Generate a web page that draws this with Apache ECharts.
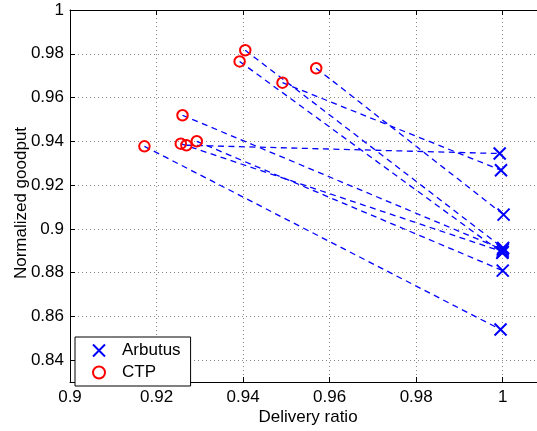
<!DOCTYPE html>
<html>
<head>
<meta charset="utf-8">
<script src="https://cdn.jsdelivr.net/npm/echarts@6/dist/echarts.min.js"></script>
<style>
html,body{margin:0;padding:0;background:#fff;overflow:hidden;width:537px;height:431px;}
#chart{width:546px;height:431px;}
</style>
</head>
<body>
<div id="chart"></div>
<script>
// CTP points: delivery ratio, normalized goodput
const ctpX = [0.9172, 0.9260, 0.9256, 0.9269, 0.9293, 0.9392, 0.9405, 0.9491, 0.9569];
const ctpY = [0.9377, 0.9519, 0.9389, 0.9382, 0.9400, 0.9765, 0.9816, 0.9668, 0.9734];
// Arbutus points (paired with the CTP point at the same index)
const arbX = [0.9995, 1.0000, 1.0000, 0.9993, 1.0000, 0.9999, 1.0001, 0.9996, 1.0002];
const arbY = [0.8540, 0.8905, 0.8895, 0.9344, 0.8809, 0.8890, 0.8912, 0.9268, 0.9065];
const xTicks = [0.9, 0.92, 0.94, 0.96, 0.98, 1.0];
const yTicks = [0.84, 0.86, 0.88, 0.9, 0.92, 0.94, 0.96, 0.98, 1.0];

const FONT = 'Liberation Sans, Arial, sans-serif';
const fmt = v => String(+Number(v).toFixed(2));

const chart = echarts.init(document.getElementById('chart'), null, {renderer: 'canvas'});

const ctpData = ctpX.map((x, i) => [x, ctpY[i]]);
const arbData = arbX.map((x, i) => [x, arbY[i]]);
const pairData = ctpX.map((x, i) => ({coords: [[x, ctpY[i]], [arbX[i], arbY[i]]]}));

const xPath = 'path://M0,0L10,10M10,0L0,10';

chart.setOption({
  animation: false,
  backgroundColor: '#fff',
  grid: {left: 70, top: 10, right: 0, bottom: 45, containLabel: false},
  xAxis: [{
    type: 'value', min: 0.9, max: 1.01,
    name: 'Delivery ratio', nameLocation: 'middle', nameGap: 27, nameMoveOverlap: false,
    nameTextStyle: {fontFamily: FONT, fontSize: 17, color: '#000'},
    axisLine: {show: true, lineStyle: {color: '#000', width: 1}},
    axisTick: {show: true, inside: true, length: 5, customValues: xTicks, lineStyle: {color: '#000'}},
    axisLabel: {customValues: xTicks, formatter: fmt, fontFamily: FONT, fontSize: 17, color: '#000', margin: 7},
    splitLine: {show: true, lineStyle: {color: '#888', width: 1, type: [1, 3]}}
  }, {
    type: 'value', min: 0.9, max: 1.01, position: 'top',
    axisLine: {show: true, lineStyle: {color: '#000', width: 1}},
    axisTick: {show: true, inside: true, length: 5, customValues: xTicks, lineStyle: {color: '#000'}},
    axisLabel: {show: false},
    splitLine: {show: false}
  }],
  yAxis: [{
    type: 'value', min: 0.83, max: 1.0,
    name: 'Normalized goodput', nameLocation: 'middle', nameGap: 40, nameMoveOverlap: false,
    nameTextStyle: {fontFamily: FONT, fontSize: 17, color: '#000', padding: [0, 14, 0, 0]},
    axisLine: {show: true, lineStyle: {color: '#000', width: 1}},
    axisTick: {show: true, inside: true, length: 5, customValues: yTicks, lineStyle: {color: '#000'}},
    axisLabel: {customValues: yTicks, formatter: fmt, fontFamily: FONT, fontSize: 17, color: '#000', margin: 6},
    splitLine: {show: true, lineStyle: {color: '#888', width: 1, type: [1, 3]}}
  }],
  legend: {
    orient: 'vertical', left: 75, top: 337,
    padding: [5, 10, 5, 17],
    itemWidth: 14, itemHeight: 12, itemGap: 5,
    backgroundColor: '#fff', borderColor: '#000', borderWidth: 1, borderRadius: 0,
    textStyle: {fontFamily: FONT, fontSize: 17, lineHeight: 14, color: '#000', padding: [0, 0, 0, 11]},
    selectedMode: false,
    data: [
      {name: 'Arbutus', icon: xPath, itemStyle: {color: 'rgba(0,0,0,0)', borderColor: '#0000ff', borderWidth: 2}},
      {name: 'CTP', icon: 'circle', itemStyle: {color: 'rgba(0,0,0,0)', borderColor: '#ff0000', borderWidth: 2}}
    ]
  },
  series: [{
    type: 'lines', coordinateSystem: 'cartesian2d', xAxisIndex: 0, yAxisIndex: 0,
    silent: true, polyline: false,
    lineStyle: {color: '#0000ff', width: 1.3, type: [6, 4.5], opacity: 1, curveness: 0},
    data: pairData, z: 2
  }, {
    name: 'Arbutus', type: 'scatter', xAxisIndex: 0, yAxisIndex: 0,
    symbol: xPath, symbolSize: 12,
    itemStyle: {color: 'rgba(0,0,0,0)', borderColor: '#0000ff', borderWidth: 2, opacity: 1},
    data: arbData, z: 3, silent: true
  }, {
    name: 'CTP', type: 'scatter', xAxisIndex: 0, yAxisIndex: 0,
    symbol: 'circle', symbolSize: 10.5,
    itemStyle: {color: 'rgba(0,0,0,0)', borderColor: '#ff0000', borderWidth: 2, opacity: 1},
    data: ctpData, z: 4, silent: true
  }]
});
</script>
</body>
</html>
